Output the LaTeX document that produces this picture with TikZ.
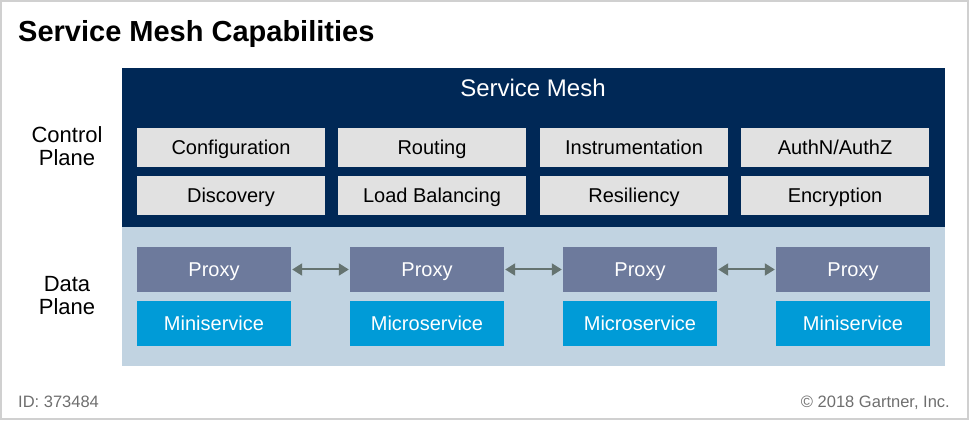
\documentclass[tikz,border=0pt]{standalone}
\usepackage{fontspec}
\setmainfont{Liberation Sans}
\usetikzlibrary{arrows.meta}
\definecolor{navy}{RGB}{0,40,86}
\definecolor{capgray}{RGB}{225,225,225}
\definecolor{dpblue}{RGB}{193,211,225}
\definecolor{proxyc}{RGB}{109,122,156}
\definecolor{svcblue}{RGB}{0,155,215}
\definecolor{arrc}{RGB}{101,115,112}
\definecolor{framec}{RGB}{208,208,208}
\definecolor{graytext}{RGB}{110,110,110}
\tikzset{
  capbox/.style={fill=capgray, minimum width=188pt, minimum height=39pt, inner sep=0pt,
    text height=14.3pt, text depth=0pt, font=\fontsize{20}{24}\selectfont, text=black},
  proxybox/.style={fill=proxyc, minimum width=154pt, minimum height=45pt, inner sep=0pt,
    text height=14.3pt, text depth=0pt, font=\fontsize{20}{24}\selectfont, text=white},
  svcbox/.style={fill=svcblue, minimum width=154pt, minimum height=45pt, inner sep=0pt,
    text height=14.3pt, text depth=0pt, font=\fontsize{20}{24}\selectfont, text=white},
  planelabel/.style={align=center, inner sep=0pt, font=\fontsize{22}{23}\selectfont},
  link/.style={draw=arrc, line width=2pt, {Triangle[length=10pt,width=12pt]}-{Triangle[length=10pt,width=12pt]}, shorten >=1pt, shorten <=1pt},
  foot/.style={inner sep=0pt, text=graytext, font=\fontsize{16.5}{20}\selectfont}
}
\begin{document}
\begin{tikzpicture}[x=1pt,y=-1pt]
\useasboundingbox (0,0) rectangle (970,422);
\draw[framec, line width=1.5pt] (1,1) rectangle (968,419);
\node[anchor=base west, inner sep=0pt, font=\bfseries\fontsize{29}{34}\selectfont] (title) at (18,41.5) {Service Mesh Capabilities};
% planes
\fill[navy] (122,68) rectangle (945,227);
\fill[dpblue] (122,227) rectangle (945,366);
\node[anchor=base, inner sep=0pt, text=white, font=\fontsize{24}{28}\selectfont] (sm) at (533,97) {Service Mesh};
\node[planelabel] (cp) at (67,146) {Control\\Plane};
\node[planelabel] (dp) at (67,296) {Data\\Plane};
% capabilities
\node[capbox] (c1) at (231,147.5) {Configuration};
\node[capbox] (c2) at (432,147.5) {Routing};
\node[capbox] (c3) at (634,147.5) {Instrumentation};
\node[capbox] (c4) at (835,147.5) {AuthN/AuthZ};
\node[capbox] (d1) at (231,195.5) {Discovery};
\node[capbox] (d2) at (432,195.5) {Load Balancing};
\node[capbox] (d3) at (634,195.5) {Resiliency};
\node[capbox] (d4) at (835,195.5) {Encryption};
% data plane
\node[proxybox] (p1) at (214,269.5) {Proxy};
\node[proxybox] (p2) at (427,269.5) {Proxy};
\node[proxybox] (p3) at (640,269.5) {Proxy};
\node[proxybox] (p4) at (853,269.5) {Proxy};
\node[svcbox] (s1) at (214,323.5) {Miniservice};
\node[svcbox] (s2) at (427,323.5) {Microservice};
\node[svcbox] (s3) at (640,323.5) {Microservice};
\node[svcbox] (s4) at (853,323.5) {Miniservice};
\draw[link] (p1) -- (p2);
\draw[link] (p2) -- (p3);
\draw[link] (p3) -- (p4);
% footer
\node[foot, anchor=base west] (id) at (18,407) {ID: 373484};
\node[foot, anchor=base east] (copy) at (950,407) {© 2018 Gartner, Inc.};
\end{tikzpicture}
\end{document}
